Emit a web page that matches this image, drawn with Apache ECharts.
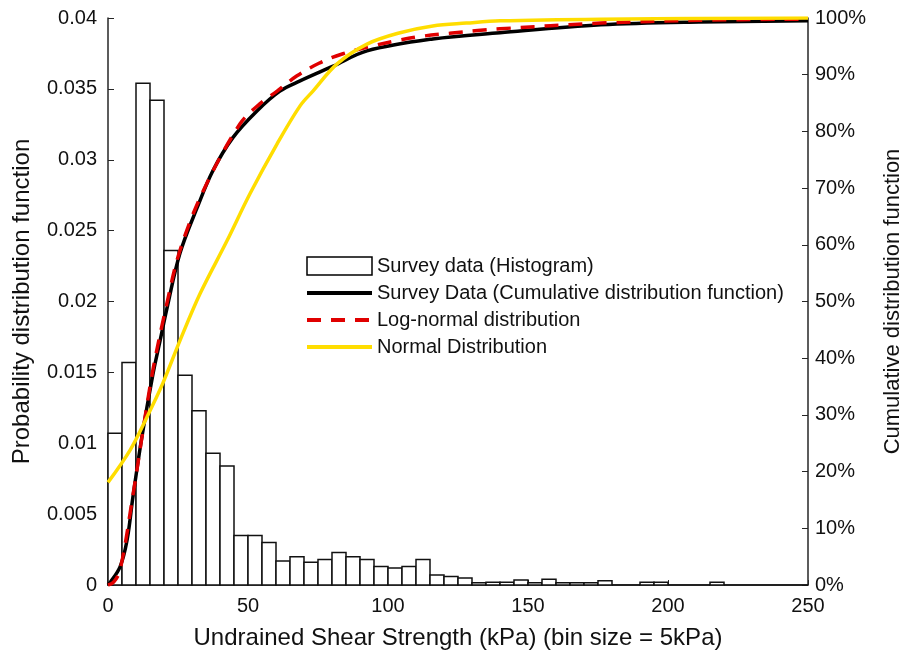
<!DOCTYPE html>
<html>
<head>
<meta charset="utf-8">
<title>Undrained shear strength distribution</title>
<script src="https://cdn.jsdelivr.net/npm/echarts@6/dist/echarts.min.js"></script>
<style>
  html, body { margin: 0; padding: 0; background: #fff; }
  #chart { width: 906px; height: 654px; }
</style>
</head>
<body>
<div id="chart"></div>
<script>
  // histogram, bin size 5 kPa, starting at 0
  var binSize = 5;
  var histValues = [
    0.0107, 0.0157, 0.0354, 0.0342, 0.0236, 0.0148, 0.0123, 0.0093, 0.0084, 0.0035,
    0.0035, 0.0030, 0.0017, 0.0020, 0.0016, 0.0018, 0.0023, 0.0020, 0.0018, 0.0013,
    0.0012, 0.0013, 0.0018, 0.0007, 0.0006, 0.0005, 0.00015, 0.0002, 0.0002, 0.00035,
    0.00015, 0.0004, 0.00015, 0.00015, 0.00015, 0.0003, 0, 0, 0.0002, 0.0002,
    0, 0, 0, 0.0002, 0, 0, 0, 0, 0, 0
  ];

  // cumulative curves (kPa, %)
  var surveyCdfX = [0, 0.7, 4.3, 6.8, 8.9, 12.1, 16.1, 18.6, 21.1, 25.7, 31.8, 37.5, 44.6, 53.2, 61.4, 68.6, 80.4, 92.5, 116, 140, 176, 211, 250];
  var surveyCdfY = [0, 0.4, 3.2, 7.9, 15.5, 26.1, 37.3, 43.1, 48.9, 58.5, 66.5, 73.1, 78.9, 83.6, 87.1, 88.9, 91.5, 94.2, 96.3, 97.4, 98.8, 99.3, 99.5];

  var logNormX = [0, 2, 4.3, 8.9, 12.1, 16, 21, 25.7, 34, 47.1, 54.3, 60.4, 67.5, 75.7, 83.9, 94.6, 103, 112.5, 122, 132, 140, 176, 211, 250];
  var logNormY = [0, 0.5, 2.6, 15.8, 26, 37.8, 49.6, 59, 69.5, 81.3, 84.9, 87.1, 89.8, 92.1, 93.7, 95.1, 96, 96.8, 97.3, 97.8, 98.1, 99.1, 99.6, 99.8];

  var normalX = [0, 7.9, 13.9, 19.6, 25.7, 32.9, 42.5, 50.7, 60.4, 68.6, 73.2, 81.8, 92.5, 104.3, 116, 128, 140, 176, 250];
  var normalY = [18.1, 23.8, 29.6, 35.6, 43.1, 51.4, 60.7, 69, 77.8, 84.5, 87.1, 91.9, 95.4, 97.4, 98.6, 99.1, 99.5, 99.8, 100];

  var seriesNames = [
    'Survey data (Histogram)',
    'Survey Data (Cumulative distribution function)',
    'Log-normal distribution',
    'Normal Distribution'
  ];

  function pairs(xs, ys) {
    return xs.map(function (x, i) { return [x, ys[i]]; });
  }

  var histData = histValues.map(function (v, i) {
    return [i * binSize, (i + 1) * binSize, v];
  });

  var font = '"Liberation Sans", Arial, sans-serif';
  var axisColor = '#262626';
  var textColor = '#111';

  var chart = echarts.init(document.getElementById('chart'));

  var option = {
    backgroundColor: '#fff',
    animation: false,
    textStyle: { fontFamily: font },
    grid: { left: 108, right: 98, top: 18, bottom: 69, outerBoundsMode: 'none' },
    legend: {
      orient: 'vertical',
      left: 300,
      top: 251,
      itemWidth: 65,
      itemHeight: 18,
      itemGap: 7,
      textStyle: { fontSize: 20, color: textColor, fontFamily: font },
      data: [
        { name: seriesNames[0], icon: 'rect', itemStyle: { color: '#fff', borderColor: '#000', borderWidth: 1.5 } },
        { name: seriesNames[1], itemStyle: { opacity: 0 }, lineStyle: { width: 4 } },
        { name: seriesNames[2], itemStyle: { opacity: 0 }, lineStyle: { width: 4 } },
        { name: seriesNames[3], itemStyle: { opacity: 0 }, lineStyle: { width: 4 } }
      ]
    },
    xAxis: {
      type: 'value',
      min: 0,
      max: 250,
      interval: 50,
      name: 'Undrained Shear Strength (kPa) (bin size = 5kPa)',
      nameLocation: 'middle',
      nameGap: 41,
      nameTextStyle: { fontSize: 24, color: textColor },
      axisLine: { lineStyle: { color: axisColor, width: 1.5 } },
      axisTick: { inside: true, length: 5, lineStyle: { color: axisColor } },
      axisLabel: { fontSize: 20, color: textColor, margin: 11 },
      splitLine: { show: false }
    },
    yAxis: [
      {
        type: 'value',
        min: 0,
        max: 0.04,
        interval: 0.005,
        position: 'left',
        name: 'Probability distribution function',
        nameLocation: 'middle',
        nameGap: 74,
        nameTextStyle: { fontSize: 24, color: textColor },
        axisLine: { show: true, lineStyle: { color: axisColor, width: 1.5 } },
        axisTick: { show: true, inside: true, length: 6, lineStyle: { color: axisColor } },
        axisLabel: { fontSize: 20, color: textColor, margin: 11 },
        splitLine: { show: false }
      },
      {
        type: 'value',
        min: 0,
        max: 100,
        interval: 10,
        position: 'right',
        name: 'Cumulative distribution function',
        nameLocation: 'middle',
        nameGap: 74,
        nameRotate: 90,
        nameTextStyle: { fontSize: 22, color: textColor },
        axisLine: { show: true, lineStyle: { color: axisColor, width: 1.5 } },
        axisTick: { show: true, inside: true, length: 6, lineStyle: { color: axisColor } },
        axisLabel: { fontSize: 20, color: textColor, margin: 7, formatter: '{value}%' },
        splitLine: { show: false }
      }
    ],
    series: [
      {
        name: seriesNames[0],
        type: 'custom',
        yAxisIndex: 0,
        encode: { x: [0, 1], y: 2 },
        itemStyle: { color: '#fff', borderColor: '#000', borderWidth: 1.5 },
        renderItem: function (params, api) {
          var topLeft = api.coord([api.value(0), api.value(2)]);
          var bottomRight = api.coord([api.value(1), 0]);
          return {
            type: 'rect',
            shape: {
              x: topLeft[0],
              y: topLeft[1],
              width: bottomRight[0] - topLeft[0],
              height: bottomRight[1] - topLeft[1]
            },
            style: { fill: '#fff', stroke: '#111', lineWidth: 1.5 }
          };
        },
        data: histData
      },
      {
        name: seriesNames[1],
        type: 'line',
        yAxisIndex: 1,
        smooth: 0.35,
        symbol: 'none',
        color: '#000',
        lineStyle: { color: '#000', width: 3.5 },
        data: pairs(surveyCdfX, surveyCdfY),
        z: 3
      },
      {
        name: seriesNames[2],
        type: 'line',
        yAxisIndex: 1,
        smooth: 0.35,
        symbol: 'none',
        color: '#e00000',
        lineStyle: { color: '#e00000', width: 3.5, type: [14, 10] },
        data: pairs(logNormX, logNormY),
        z: 4
      },
      {
        name: seriesNames[3],
        type: 'line',
        yAxisIndex: 1,
        smooth: 0.35,
        symbol: 'none',
        color: '#ffdd00',
        lineStyle: { color: '#ffdd00', width: 3.5 },
        data: pairs(normalX, normalY),
        z: 5
      }
    ]
  };

  chart.setOption(option);
</script>
</body>
</html>
